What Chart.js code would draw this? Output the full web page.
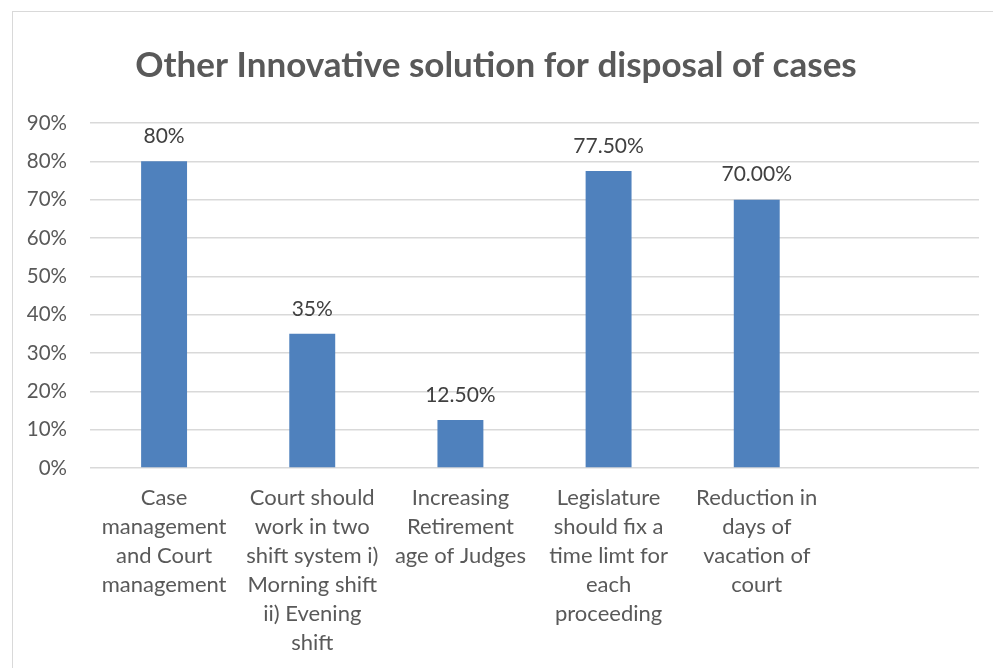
<!DOCTYPE html>
<html>
<head>
<meta charset="utf-8">
<script src="https://cdn.jsdelivr.net/npm/chart.js@4/dist/chart.umd.min.js"></script>
<style>
  html, body { margin: 0; padding: 0; background: #ffffff; }
  #wrap { position: relative; width: 993px; height: 668px; }
</style>
</head>
<body>
<div id="wrap"><canvas id="c" width="993" height="668"></canvas></div>
<script>
const chartTitle = 'Other Innovative solution for disposal of cases';
const categories = [
  ['Case', 'management', 'and Court', 'management'],
  ['Court should', 'work in two', 'shift system i)', 'Morning shift', 'ii) Evening', 'shift'],
  ['Increasing', 'Retirement', 'age of Judges'],
  ['Legislature', 'should fix a', 'time limt for', 'each', 'proceeding'],
  ['Reduction in', 'days of', 'vacation of', 'court'],
  ''
];
const shares = [0.80, 0.35, 0.125, 0.775, 0.70, null];
const shareLabels = ['80%', '35%', '12.50%', '77.50%', '70.00%', ''];
const yTicks = [0, 0.1, 0.2, 0.3, 0.4, 0.5, 0.6, 0.7, 0.8, 0.9];

const FONT = 'Lato, "Open Sans", sans-serif';

// frame and heading drawn behind the plot
const framePlugin = {
  id: 'frame',
  beforeDraw(chart) {
    const ctx = chart.ctx;
    ctx.save();
    ctx.fillStyle = '#ffffff';
    ctx.fillRect(0, 0, chart.width, chart.height);
    ctx.strokeStyle = '#d9d9d9';
    ctx.lineWidth = 1;
    ctx.strokeRect(12.5, 11.5, 1000, 700);
    ctx.fillStyle = '#595959';
    ctx.font = 'bold 35px ' + FONT;
    ctx.textAlign = 'center';
    ctx.textBaseline = 'middle';
    ctx.fillText(chartTitle, 496, 66);
    ctx.restore();
  }
};

// value labels above each bar
const valuePlugin = {
  id: 'values',
  afterDatasetsDraw(chart) {
    const ctx = chart.ctx;
    const meta = chart.getDatasetMeta(0);
    ctx.save();
    ctx.fillStyle = '#404040';
    ctx.font = '21px ' + FONT;
    ctx.textAlign = 'center';
    ctx.textBaseline = 'middle';
    meta.data.forEach((bar, i) => {
      if (shares[i] == null) return;
      ctx.fillText(shareLabels[i], bar.x, bar.y - 25);
    });
    ctx.restore();
  }
};

new Chart(document.getElementById('c'), {
  type: 'bar',
  data: {
    labels: categories,
    datasets: [{
      data: shares,
      backgroundColor: '#4f81bd',
      borderWidth: 0,
      barPercentage: 0.62,
      categoryPercentage: 0.5
    }]
  },
  options: {
    responsive: false,
    animation: false,
    layout: { padding: { top: 123, right: 14, left: 0, bottom: 0 } },
    plugins: { legend: { display: false }, tooltip: { enabled: false } },
    scales: {
      x: {
        grid: { display: false, drawTicks: false },
        border: { display: false },
        ticks: {
          autoSkip: false, maxRotation: 0, minRotation: 0,
          padding: 15,
          color: '#595959',
          font: { family: FONT, size: 22, lineHeight: 1.32 }
        },
        afterFit(scale) { scale.height = 200; }
      },
      y: {
        min: 0, max: 0.9,
        afterBuildTicks(scale) { scale.ticks = yTicks.map(v => ({ value: v })); },
        grid: { color: '#d9d9d9', lineWidth: 1.5, drawTicks: false },
        border: { display: false },
        ticks: {
          padding: 23,
          color: '#595959',
          font: { family: FONT, size: 20.5 },
          callback: v => Math.round(v * 100) + '%'
        },
        afterFit(scale) { scale.width = 90; }
      }
    }
  },
  plugins: [framePlugin, valuePlugin]
});
</script>
</body>
</html>
